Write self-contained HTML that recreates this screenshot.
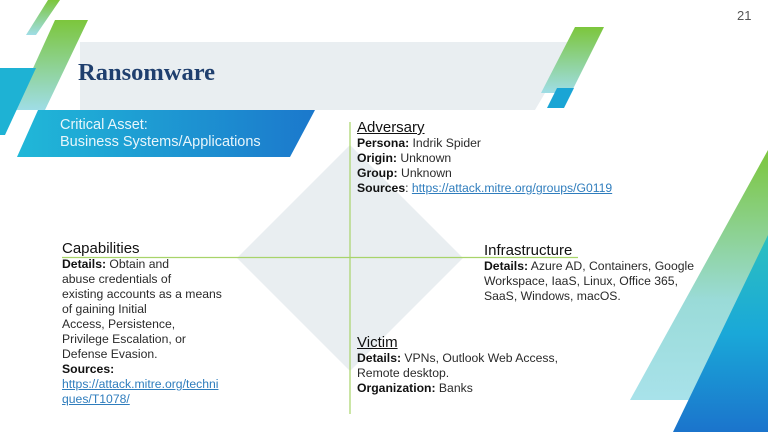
<!DOCTYPE html>
<html><head><meta charset="utf-8"><style>
body{margin:0;width:768px;height:432px;overflow:hidden;background:#fff;position:relative;font-family:"Liberation Sans",sans-serif;color:#222}
svg{position:absolute;left:0;top:0}
.t{position:absolute;font-size:12.2px;line-height:15px;color:#2a2a2a}
.h{font-size:15px;line-height:17px;color:#111}
.u{text-decoration:underline}
a{color:#2f7dbd;text-decoration:underline}
b{font-weight:bold;color:#111}
</style></head><body>
<svg width="768" height="432">
<defs>
<linearGradient id="gb" x1="0" x2="1"><stop offset="0" stop-color="#20b8d8"/><stop offset="1" stop-color="#1b78cc"/></linearGradient>
<linearGradient id="gg" x1="0" y1="0" x2="0" y2="1"><stop offset="0" stop-color="#7cc63c"/><stop offset="1" stop-color="#9fdde6"/></linearGradient>
<linearGradient id="gr" x1="0" y1="0" x2="0" y2="1"><stop offset="0" stop-color="#7cc63c"/><stop offset="0.6" stop-color="#9adbd8"/><stop offset="1" stop-color="#a8e2ea"/></linearGradient>
<linearGradient id="gbl" x1="0" y1="0" x2="0" y2="1"><stop offset="0" stop-color="#2cc0c0"/><stop offset="0.5" stop-color="#1aa8d8"/><stop offset="1" stop-color="#1b74cc"/></linearGradient>
</defs>
<polygon points="80,42 575,42 535,110 80,110" fill="#e9eef1"/>
<polygon points="48,0 60,0 36,35 26,35" fill="url(#gg)"/>
<polygon points="55,20 88,20 45,110 14,110" fill="url(#gg)"/>
<polygon points="0,68 36,68 5,135 0,135" fill="#1eb2d4"/>
<polygon points="38,110 315,110 290,157 17,157" fill="url(#gb)"/>
<polygon points="575,27 604,27 571,93 541,93" fill="url(#gg)"/>
<polygon points="557,88 574,88 564,108 547,108" fill="#1aa5d5"/>
<polygon points="768,150 768,400 630,400" fill="url(#gr)"/>
<polygon points="768,235 768,432 673,432" fill="url(#gbl)"/>
<polygon points="350,145 463,258 350,371 237,258" fill="#e9eef1"/>
<line x1="62" y1="257.5" x2="578" y2="257.5" stroke="#a8d46a" stroke-width="1.2"/>
<line x1="350" y1="122" x2="350" y2="414" stroke="#a8d46a" stroke-width="1.2"/>
</svg>
<div style="position:absolute;left:737px;top:8px;font-size:13px;color:#555">21</div>
<div style="position:absolute;left:78px;top:59px;font-family:'Liberation Serif',serif;font-weight:bold;font-size:24.5px;color:#1f3f6e">Ransomware</div>
<div style="position:absolute;left:60px;top:117px;font-size:14.5px;line-height:17px;color:#e8f6fb">Critical Asset:<br>Business Systems/Applications</div>
<div class="t" style="left:357px;top:119px"><div class="h u">Adversary</div><b>Persona:</b> Indrik Spider<br><b>Origin:</b> Unknown<br><b>Group:</b> Unknown<br><b>Sources</b>: <a>https://attack.mitre.org/groups/G0119</a></div>
<div class="t" style="left:62px;top:240px"><div class="h">Capabilities</div><b>Details:</b> Obtain and<br>abuse credentials of<br>existing accounts as a means<br>of gaining Initial<br>Access, Persistence,<br>Privilege Escalation, or<br>Defense Evasion.<br><b>Sources:</b><br><a>https://attack.mitre.org/techni<br>ques/T1078/</a></div>
<div class="t" style="left:484px;top:242px"><div class="h">Infrastructure</div><b>Details:</b> Azure AD, Containers, Google<br>Workspace, IaaS, Linux, Office 365,<br>SaaS, Windows, macOS.</div>
<div class="t" style="left:357px;top:334px"><div class="h u">Victim</div><b>Details:</b> VPNs, Outlook Web Access,<br>Remote desktop.<br><b>Organization:</b> Banks</div>
</body></html>
